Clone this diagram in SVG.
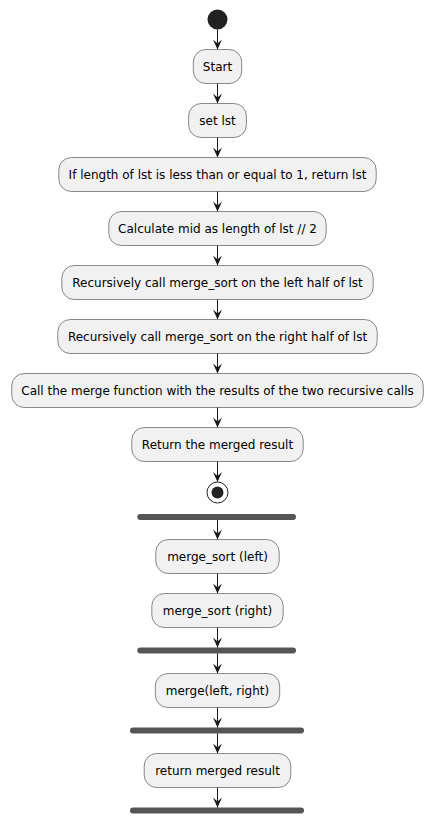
<svg xmlns="http://www.w3.org/2000/svg" width="433" height="823" viewBox="0 0 433 823">
<style>
.box{fill:#F1F1F1;stroke:#181818;stroke-width:0.5}
.t{font-family:"DejaVu Sans",sans-serif;font-size:12px;fill:#000;text-anchor:middle}
.bar{fill:#555555}
.ln{stroke:#181818;stroke-width:1;fill:none}
.ah{fill:#181818}
</style>
<defs>
<polygon id="ah" points="-4.5,-10 0,0 4.5,-10 0,-6" class="ah"/>
</defs>
<rect width="433" height="823" fill="#FFFFFF"/>
<g id="start"><circle cx="217.5" cy="19.5" r="10" fill="#222222"/></g>
<g id="n1"><rect class="box" x="193.3" y="49.5" width="48.4" height="34" rx="12.5"/><text class="t" x="217.5" y="71">Start</text></g>
<g id="n2"><rect class="box" x="188.6" y="103.5" width="57.8" height="34" rx="12.5"/><text class="t" x="217.5" y="125">set lst</text></g>
<g id="n3"><rect class="box" x="58.8" y="157.5" width="317.4" height="34" rx="12.5"/><text class="t" x="217.5" y="179">If length of lst is less than or equal to 1, return lst</text></g>
<g id="n4"><rect class="box" x="108.8" y="211.5" width="217.4" height="34" rx="12.5"/><text class="t" x="217.5" y="233">Calculate mid as length of lst // 2</text></g>
<g id="n5"><rect class="box" x="61.8" y="265.5" width="311.4" height="34" rx="12.5"/><text class="t" x="217.5" y="287">Recursively call merge_sort on the left half of lst</text></g>
<g id="n6"><rect class="box" x="57.8" y="319.5" width="319.4" height="34" rx="12.5"/><text class="t" x="217.5" y="341">Recursively call merge_sort on the right half of lst</text></g>
<g id="n7"><rect class="box" x="11.7" y="373.5" width="411.6" height="34" rx="12.5"/><text class="t" x="217.5" y="395">Call the merge function with the results of the two recursive calls</text></g>
<g id="n8"><rect class="box" x="131.8" y="427.5" width="171.4" height="34" rx="12.5"/><text class="t" x="217.5" y="449">Return the merged result</text></g>
<g id="stop"><circle cx="217.5" cy="492.5" r="10.5" fill="#FFFFFF" stroke="#222222" stroke-width="1"/><circle cx="217.5" cy="492.5" r="6" fill="#222222"/></g>
<g id="fork1"><rect class="bar" x="137.3" y="514" width="158.7" height="6" rx="3"/></g>
<g id="n9"><rect class="box" x="155.8" y="539.5" width="123.4" height="34" rx="12.5"/><text class="t" x="217.5" y="561">merge_sort (left)</text></g>
<g id="n10"><rect class="box" x="151.8" y="593.5" width="131.4" height="34" rx="12.5"/><text class="t" x="217.5" y="615">merge_sort (right)</text></g>
<g id="fork2"><rect class="bar" x="137.3" y="647.5" width="158.7" height="6" rx="3"/></g>
<g id="n11"><rect class="box" x="155.3" y="673.5" width="124.4" height="34" rx="12.5"/><text class="t" x="217.5" y="695">merge(left, right)</text></g>
<g id="fork3"><rect class="bar" x="130" y="727.5" width="174" height="6" rx="3"/></g>
<g id="n12"><rect class="box" x="144.2" y="753.5" width="146.6" height="34" rx="12.5"/><text class="t" x="217.5" y="775">return merged result</text></g>
<g id="fork4"><rect class="bar" x="130" y="807.5" width="174" height="6" rx="3"/></g>
<g id="connectors">
<line class="ln" x1="217.5" y1="29.5" x2="217.5" y2="49"/><use href="#ah" x="217.5" y="49.5"/>
<line class="ln" x1="217.5" y1="83.5" x2="217.5" y2="103"/><use href="#ah" x="217.5" y="103.5"/>
<line class="ln" x1="217.5" y1="137.5" x2="217.5" y2="157"/><use href="#ah" x="217.5" y="157.5"/>
<line class="ln" x1="217.5" y1="191.5" x2="217.5" y2="211"/><use href="#ah" x="217.5" y="211.5"/>
<line class="ln" x1="217.5" y1="245.5" x2="217.5" y2="265"/><use href="#ah" x="217.5" y="265.5"/>
<line class="ln" x1="217.5" y1="299.5" x2="217.5" y2="319"/><use href="#ah" x="217.5" y="319.5"/>
<line class="ln" x1="217.5" y1="353.5" x2="217.5" y2="373"/><use href="#ah" x="217.5" y="373.5"/>
<line class="ln" x1="217.5" y1="407.5" x2="217.5" y2="427"/><use href="#ah" x="217.5" y="427.5"/>
<line class="ln" x1="217.5" y1="461.5" x2="217.5" y2="481.5"/><use href="#ah" x="217.5" y="482"/>
<line class="ln" x1="217.5" y1="520" x2="217.5" y2="539"/><use href="#ah" x="217.5" y="539.5"/>
<line class="ln" x1="217.5" y1="573.5" x2="217.5" y2="593"/><use href="#ah" x="217.5" y="593.5"/>
<line class="ln" x1="217.5" y1="627.5" x2="217.5" y2="647.5"/><use href="#ah" x="217.5" y="647.5"/>
<line class="ln" x1="217.5" y1="653.5" x2="217.5" y2="673"/><use href="#ah" x="217.5" y="673.5"/>
<line class="ln" x1="217.5" y1="707.5" x2="217.5" y2="727.5"/><use href="#ah" x="217.5" y="727.5"/>
<line class="ln" x1="217.5" y1="733.5" x2="217.5" y2="753"/><use href="#ah" x="217.5" y="753.5"/>
<line class="ln" x1="217.5" y1="787.5" x2="217.5" y2="807.5"/><use href="#ah" x="217.5" y="807.5"/>
</g>
</svg>
